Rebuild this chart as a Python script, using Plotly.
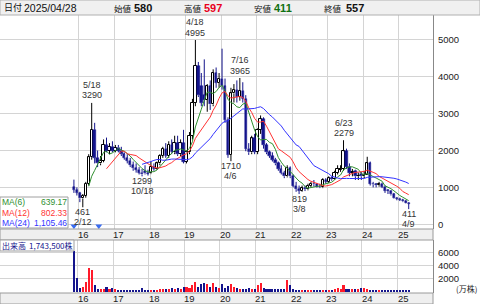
import plotly.graph_objects as go
import pandas as pd

W, H = 480, 304
def px(x): return x / W
def py(y): return 1 - y / H

# ---------------- data (monthly, Nov 2015 .. Apr 2025) ----------------
months = [p.strftime('%Y-%m') for p in pd.period_range('2015-11', '2025-04', freq='M')]
opens = [1000, 930, 850, 700, 780, 1100, 1820, 2560, 1800, 1650, 1720, 2150, 2000, 2100,
         2000, 2080, 2000, 1900, 1800, 1720, 1600, 1520, 1480, 1400, 1450, 1380,
         1380, 1560, 1500, 1650, 1850, 2050, 1850, 2150, 1950, 2200, 1900, 2200,
         1700, 1950, 2400, 3290, 4290, 3740, 3500, 3380, 3740, 3250, 4100, 3830,
         3950, 3740, 2830, 1880, 3550, 3650, 3450, 3620, 3400, 2050, 1950, 2330,
         1960, 2560, 2850, 2150, 1950, 1850, 1750, 1650, 1500, 1400, 1300, 1520,
         1300, 1050, 950, 900, 980, 950, 1050, 1100, 1080, 1020, 1000, 1200,
         1150, 1250, 1220, 1400, 1480, 1500, 1980, 1560, 1400, 1450, 1300, 1350,
         1300, 1333, 1650, 1100, 1080, 1060, 1100, 1020, 920, 900, 813, 720,
         690, 660, 620, 580]
highs = [1210, 1000, 880, 820, 1150, 1900, 3290, 2750, 2000, 1850, 2300, 2350, 2200, 2250,
         2150, 2150, 2100, 1950, 1900, 1800, 1700, 1650, 1550, 1500, 1600, 1480,
         1700, 1650, 1700, 1900, 2100, 2200, 2250, 2300, 2400, 2400, 2300, 2560,
         2000, 2500, 3400, 4995, 4400, 4100, 4470, 3800, 3900, 4200, 4250, 4100,
         4760, 3950, 2900, 3700, 3800, 3900, 3965, 3850, 3500, 2200, 2400, 2450,
         2600, 2950, 2900, 2200, 2000, 1950, 1800, 1700, 1600, 1450, 1600, 1570,
         1350, 1150, 1050, 1050, 1050, 1100, 1150, 1200, 1120, 1100, 1250, 1250,
         1300, 1300, 1450, 1600, 1600, 2279, 2050, 1650, 1500, 1480, 1400, 1420,
         1450, 1830, 1700, 1150, 1120, 1150, 1130, 1050, 950, 920, 850, 740,
         720, 690, 650, 597]
lows = [850, 780, 600, 461, 720, 1050, 1750, 1650, 1550, 1600, 1680, 1950, 1900, 1950,
        1950, 1950, 1850, 1750, 1650, 1550, 1450, 1400, 1350, 1299, 1350, 1320,
        1360, 1450, 1480, 1600, 1800, 1800, 1800, 1900, 1900, 1850, 1850, 1650,
        1650, 1900, 2300, 3200, 3450, 3200, 3200, 3050, 3100, 3200, 3700, 3700,
        3650, 2750, 1800, 1710, 3300, 3300, 3350, 3300, 1980, 1880, 1900, 1900,
        1900, 2450, 2050, 1900, 1800, 1700, 1600, 1450, 1350, 1250, 1270, 1250,
        1000, 880, 819, 880, 900, 920, 1000, 1020, 1000, 980, 980, 1100,
        1120, 1180, 1200, 1350, 1420, 1450, 1500, 1300, 1300, 1200, 1200, 1200,
        1250, 1333, 1050, 1000, 1000, 1020, 980, 850, 820, 780, 700, 650,
        630, 600, 570, 411]
closes = [930, 850, 700, 780, 1100, 1820, 2560, 1800, 1650, 1720, 2150, 2000, 2100, 2000,
          2080, 2000, 1900, 1800, 1720, 1600, 1520, 1480, 1400, 1350, 1380, 1370,
          1560, 1500, 1650, 1850, 2050, 1850, 2150, 1950, 2200, 1900, 2200, 1700,
          1950, 2400, 3290, 4290, 3500, 3290, 3380, 3740, 3250, 4100, 3830, 3950,
          3740, 2830, 1880, 3550, 3650, 3450, 3620, 3400, 2050, 1950, 2330, 1960,
          2560, 2850, 2150, 1950, 1850, 1750, 1650, 1500, 1400, 1300, 1520, 1300,
          1050, 950, 900, 980, 950, 1050, 1100, 1080, 1020, 1000, 1200, 1150,
          1250, 1220, 1400, 1500, 1500, 1980, 1560, 1400, 1400, 1300, 1300, 1300,
          1333, 1650, 1100, 1080, 1060, 1100, 1020, 900, 900, 813, 720, 690,
          660, 620, 588, 557]
volumes = [6300, 2050, 500, 650, 1500, 3600, 3400, 1000, 350, 400, 400, 650, 400, 500,
           350, 300, 250, 250, 250, 250, 250, 250, 250, 550, 300, 300,
           250, 260, 300, 360, 360, 450, 360, 550, 360, 500, 360, 650,
           750, 500, 1100, 1500, 750, 1250, 1300, 1150, 750, 1300, 650, 500,
           1150, 500, 850, 1150, 650, 500, 360, 360, 360, 600, 360, 360,
           1100, 1300, 520, 360, 400, 360, 360, 360, 360, 360, 1800, 1000,
           360, 250, 250, 250, 250, 250, 250, 200, 250, 250, 300, 300,
           300, 300, 400, 500, 450, 1100, 450, 360, 450, 400, 360, 500,
           550, 450, 300, 250, 250, 250, 200, 200, 200, 200, 200, 200,
           150, 150, 200, 174.35]
years = ['16', '17', '18', '19', '20', '21', '22', '23', '24', '25']
jan_idx = [2 + 12 * k for k in range(len(years))]
split_idx = [0.0, 8.4]
hl_marks = [(6, 'high', '5/18'), (41, 'high', '4/18'), (56, 'high', '7/16'), (91, 'high', '6/23'),
            (3, 'low', '2/12'), (23, 'low', '10/18'), (53, 'low', '4/6'), (76, 'low', '3/8'),
            (113, 'low', '4/9')]
ma_periods = [6, 12, 24]
ma_colors = ['#2f8f2f', '#ff3333', '#3333ff']
ma_text = ['639.17', '802.33', '1,105.46']

idx = list(range(len(closes)))
UPC, DNC = '#000000', '#14148c'
VUP, VDN = '#ff1a2a', '#14148c'

fig = go.Figure()

def wicks(sel, color):
    xs, ys = [], []
    for i in sel:
        top, bot = max(opens[i], closes[i]), min(opens[i], closes[i])
        xs += [i, i, None, i, i, None]
        ys += [highs[i], top, None, bot, lows[i], None]
    return go.Scatter(x=xs, y=ys, mode='lines', line=dict(color=color, width=1),
                      hoverinfo='skip', showlegend=False, xaxis='x', yaxis='y')

up = [i for i in idx if closes[i] >= opens[i]]
dn = [i for i in idx if closes[i] < opens[i]]
fig.add_trace(wicks(up, UPC))
fig.add_trace(wicks(dn, DNC))
fig.add_trace(go.Bar(x=up, base=[opens[i] for i in up],
                     y=[max(closes[i] - opens[i], 12) for i in up], width=0.8,
                     marker=dict(color='white', line=dict(color=UPC, width=1)),
                     showlegend=False, xaxis='x', yaxis='y'))
fig.add_trace(go.Bar(x=dn, base=[closes[i] for i in dn],
                     y=[opens[i] - closes[i] for i in dn], width=0.8,
                     marker=dict(color=DNC, line=dict(color=DNC, width=0.5)),
                     showlegend=False, xaxis='x', yaxis='y'))

cs = pd.Series(closes, dtype=float)
for p, c in zip(ma_periods, ma_colors):
    fig.add_trace(go.Scatter(x=idx, y=cs.rolling(p).mean(), mode='lines',
                             line=dict(color=c, width=1), showlegend=False,
                             xaxis='x', yaxis='y'))

fig.add_trace(go.Scatter(x=split_idx, y=[-50] * len(split_idx), mode='markers',
                         marker=dict(symbol='triangle-down', size=6, color='#3a6cf0'),
                         showlegend=False, xaxis='x', yaxis='y'))

fig.add_trace(go.Bar(x=idx, y=volumes, width=0.7,
                     marker=dict(color=[VUP if closes[i] >= opens[i] else VDN for i in idx],
                                 line=dict(width=0)),
                     showlegend=False, xaxis='x2', yaxis='y2'))

XR = [-24.95, 121.2]
XD = [0, px(433)]
grid = '#d4d4d4'
tickfont = dict(family='Liberation Sans, Arial', size=9.5, color='#222')
fig.update_layout(
    width=W, height=H, margin=dict(l=0, r=0, t=0, b=0),
    paper_bgcolor='white', plot_bgcolor='white', barmode='overlay', bargap=0,
    xaxis=dict(domain=XD, range=XR, tickvals=[j - 0.3 for j in jan_idx], showticklabels=False,
               showgrid=True, gridcolor=grid, gridwidth=1, zeroline=False, ticks='',
               showline=False, anchor='y'),
    yaxis=dict(domain=[py(229), py(15)], range=[-128, 5673], side='right',
               tickvals=[0, 1000, 2000, 3000, 4000, 5000], ticks='', tickfont=tickfont,
               showgrid=True, gridcolor=grid, zeroline=False, showline=True,
               linecolor='#888', linewidth=1, anchor='x', ticklabelstandoff=2),
    xaxis2=dict(domain=XD, range=XR, tickvals=[j - 0.8 for j in jan_idx], showticklabels=False,
                showgrid=True, gridcolor=grid, zeroline=False, ticks='', anchor='y2'),
    yaxis2=dict(domain=[py(293), py(240)], range=[-200, 7954], side='right',
                tickvals=[2000, 4000, 6000], ticks='', tickfont=tickfont,
                showgrid=True, gridcolor=grid, zeroline=False, showline=True,
                linecolor='#888', linewidth=1, anchor='x2', ticklabelstandoff=2),
    font=dict(family='Liberation Sans, Arial', size=10, color='#222'),
)

shapes = []
anns = []
shapes.append(dict(type='rect', xref='paper', yref='paper', x0=0, x1=1, y0=py(15), y1=1,
                   fillcolor='#f0f0f0', line=dict(color='#b0b0b0', width=1), layer='above'))
cjk = 'Noto Sans CJK JP'
def hdr(x, text, size, color='#111', bold=False, fam=None):
    t = f'<b>{text}</b>' if bold else text
    anns.append(dict(xref='paper', yref='paper', x=px(x), y=py(8), xanchor='left', yanchor='middle',
                     text=t, showarrow=False, font=dict(size=size, color=color,
                                                         family=fam or 'Liberation Sans, Arial')))
hdr(2, '日付', 9, fam=cjk)
hdr(22, '2025/04/28', 10.5)
hdr(112, '始値', 8.5, fam=cjk)
hdr(132, str(opens[-1]), 11, bold=True)
hdr(182, '高値', 8.5, fam=cjk)
hdr(202, str(highs[-1]), 11, color='#e8001c', bold=True)
hdr(252, '安値', 8.5, fam=cjk)
hdr(272, str(lows[-1]), 11, color='#107010', bold=True)
hdr(322, '終値', 8.5, fam=cjk)
hdr(344, str(closes[-1]), 11, bold=True)

for y0, y1 in [(229, 240), (293, 304)]:
    shapes.append(dict(type='rect', xref='paper', yref='paper', x0=0, x1=px(433), y0=py(y1), y1=py(y0),
                       fillcolor='#efefef', line=dict(color='#9a9a9a', width=1), layer='above'))
    for j, lab in zip(jan_idx, years):
        anns.append(dict(xref='x', yref='paper', x=j + 1.1, y=py((y0 + y1) / 2 + 0.3), text=lab,
                         showarrow=False, xanchor='center', yanchor='middle', borderpad=0,
                         font=dict(size=9.5, color='#222')))

# MA legend box
shapes.append(dict(type='rect', xref='paper', yref='paper', x0=0, x1=px(68), y0=py(228), y1=py(197),
                   fillcolor='white', line=dict(color='#a0a0a0', width=1), layer='above'))
for k, (p, c, v) in enumerate(zip(ma_periods, ma_colors, ma_text)):
    yy = py(202.5 + 10 * k)
    anns.append(dict(xref='paper', yref='paper', x=px(0.5), y=yy, text=f'MA({p})', showarrow=False,
                     xanchor='left', yanchor='middle', borderpad=0,
                     font=dict(size=8.5, color=c, family='Liberation Sans Narrow, Liberation Sans')))
    anns.append(dict(xref='paper', yref='paper', x=px(67.5), y=yy, text=v, showarrow=False,
                     xanchor='right', yanchor='middle', borderpad=0,
                     font=dict(size=8.5, color=c, family='Liberation Sans Narrow, Liberation Sans')))

# volume caption
shapes.append(dict(type='rect', xref='paper', yref='paper', x0=0, x1=px(74), y0=py(251), y1=py(240),
                   fillcolor='white', line=dict(color='#a0a0a0', width=1), layer='above'))
anns.append(dict(xref='paper', yref='paper', x=px(0.5), y=py(245.5), text='出来高', showarrow=False,
                 xanchor='left', yanchor='middle', borderpad=0,
                 font=dict(size=8, color='#14148c', family=cjk)))
anns.append(dict(xref='paper', yref='paper', x=px(73.5), y=py(245.5),
                 text=f'{int(round(volumes[-1] * 10000)):,}株', showarrow=False,
                 xanchor='right', yanchor='middle', borderpad=0,
                 font=dict(size=8, color='#14148c', family=cjk)))
anns.append(dict(xref='paper', yref='paper', x=px(479), y=py(288), text='(万株)', showarrow=False,
                 xanchor='right', yanchor='middle', font=dict(size=8, color='#222', family=cjk)))

# high / low labels (two tight lines each)
LF = dict(size=9, color='#333', family='Liberation Sans, Arial')
PITCH = 10.2
for i, kind, d in hl_marks:
    if kind == 'high':
        v = highs[i]
        anns.append(dict(x=i, y=v, xref='x', yref='y', text=f'{v}', showarrow=False, xanchor='center',
                         yanchor='bottom', yshift=1.5, borderpad=0, font=LF))
        anns.append(dict(x=i, y=v, xref='x', yref='y', text=d, showarrow=False, xanchor='center',
                         yanchor='bottom', yshift=1.5 + PITCH, borderpad=0, font=LF))
    else:
        v = lows[i]
        anns.append(dict(x=i, y=v, xref='x', yref='y', text=f'{v}', showarrow=False, xanchor='center',
                         yanchor='top', yshift=1.2, borderpad=0, font=LF))
        anns.append(dict(x=i, y=v, xref='x', yref='y', text=d, showarrow=False, xanchor='center',
                         yanchor='top', yshift=1.2 - PITCH, borderpad=0, font=LF))

fig.update_layout(shapes=shapes, annotations=anns)
fig.write_html('out.html')
